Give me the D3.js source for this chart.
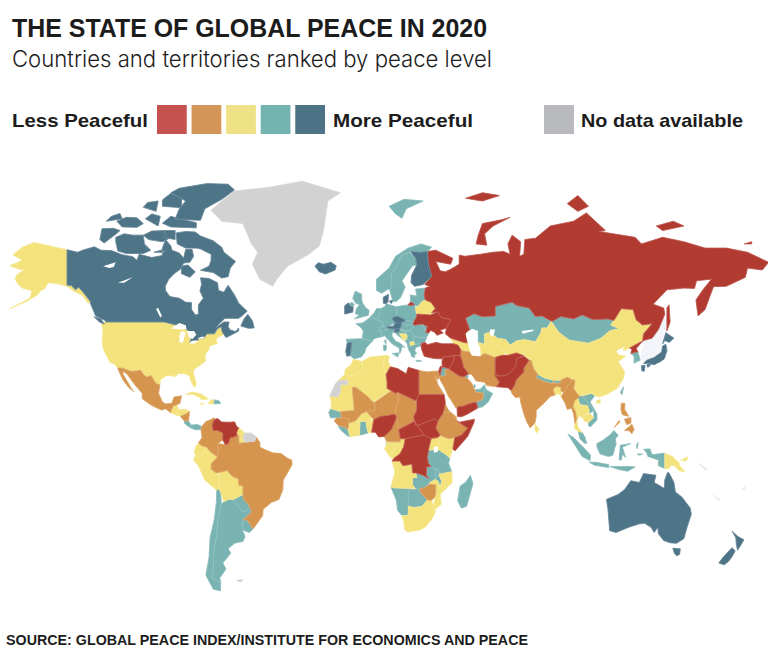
<!DOCTYPE html>
<html>
<head>
<meta charset="utf-8">
<script src="https://cdn.jsdelivr.net/npm/d3@7"></script>
<style>
  html, body { margin: 0; background: #fff; }
  svg { display: block; }
  text { font-family: "Liberation Sans", sans-serif; fill: #1c1c1c; }
</style>
</head>
<body>
<svg id="viz" width="768" height="656"></svg>
<script>
// rings are [lon, lat]. every entry is [name, ring, ring...]
const darkBlue = [
  ["Canada", [[-141,69.6],[-136,69],[-133,69.6],[-128,70.3],[-125,69.5],[-120,69.4],[-115,68.4],[-110,67.9],[-108,67],[-107,68.5],[-101,67.7],[-98,68],[-96,68.2],[-96,70],[-94.5,72],[-92,70.5],[-91.5,69.5],[-88,68.8],[-86,67.5],[-85,69.7],[-82,69.7],[-81.3,68],[-83,66.5],[-86,66.3],[-87.5,64.7],[-90.5,63.5],[-93,62],[-94.7,60],[-94.5,58.8],[-92.5,57],[-88,56.5],[-85,55.3],[-82.3,55.2],[-82.2,53],[-80.5,51.3],[-79,51.5],[-79,54.5],[-76.7,56.5],[-78.3,58.7],[-77.5,60.5],[-78,62.4],[-74,62.2],[-70,61],[-69.5,58.8],[-67,58.3],[-65,60.3],[-62,57.5],[-60,55],[-56,52.5],[-58.5,51],[-60,50.2],[-66.5,50.2],[-69,48.5],[-71,46.9],[-67,49],[-64.5,49],[-65,47.5],[-64,46.3],[-61.5,45.8],[-60,47],[-60,46],[-63.5,44.6],[-66,43.7],[-67,44.8],[-67.8,45.7],[-68.3,47.4],[-70,46.7],[-71.5,45],[-75,45],[-76.5,43.5],[-79,43.3],[-79,42.8],[-83.1,42],[-82.5,43],[-82.5,45.3],[-84.5,46.5],[-89.6,48],[-95.2,49],[-123,49],[-122.5,49.3],[-127.5,51],[-130,55],[-130,55.5],[-133,58],[-135.5,59.7],[-137,59],[-139,60.2],[-141,60.3]],
    [[-61.5,66.7],[-64,65],[-65,62.7],[-68,62.3],[-72,63.8],[-78,64.4],[-74,65.5],[-73,67],[-73,68.5],[-78,69.8],[-80,70],[-85,70],[-89,71],[-89.5,73.5],[-85,73.8],[-80.5,73.7],[-78,72.8],[-72,71.7],[-68,70.2],[-67,69]],
    [[-118,71.5],[-117,69.3],[-113,68.7],[-105,68.7],[-101.5,69.5],[-104.5,71],[-105,73],[-110,73],[-114,73.3],[-118,72.5]],
    [[-125.5,72],[-123.5,71.2],[-118,73.2],[-116,74],[-119,74.5],[-124.5,74.4]],
    [[-117.5,76],[-115,74.8],[-108,74.7],[-105,75.5],[-108,76.7],[-113,76.8]],
    [[-102.5,72],[-96,71.5],[-93,72.2],[-95,74],[-101,73.9],[-105,73]],
    [[-95.5,72.5],[-90,72],[-90,74],[-95,74]],
    [[-96,75.6],[-92,74.8],[-80,74.6],[-80,75.7],[-88,76.5],[-92,77]],
    [[-90,76.4],[-85,76.3],[-78,76.2],[-76,78.5],[-68,80.3],[-62,82],[-65,83],[-75,83.1],[-88,82.3],[-92,81.5],[-85,80],[-88,78.5]],
    [[-96,79],[-87,78.7],[-87,80.5],[-92,81.4],[-96,80.2]],
    [[-59,47.7],[-55.5,46.9],[-52.7,47],[-53.5,49.3],[-55.7,51.5],[-57.5,50]],
    [[-128.3,50.7],[-125,50],[-123.4,48.3],[-125.5,48.9]],
    [[-87,65.5],[-84,65.8],[-80.5,64],[-83,62.5],[-87,63.5]],
    [[-104,76.5],[-98,75],[-97,77],[-101,77.5]],
    [[-122.5,76],[-115,76.5],[-116,77.6],[-120,77]],
    [[-105,78.8],[-99,78],[-98,80],[-103,79.7]],
    [[-100,69],[-95,69],[-96,69.6]]],
  ["Iceland", [[-24,65.5],[-22,64],[-19,63.4],[-14.5,64.5],[-14,65.6],[-16.5,66.5],[-20,66],[-22.5,66.4]]],
  ["Finland", [[24,65.8],[21.5,63],[21.3,61],[23,60],[27,60.5],[31,62.8],[29.5,66],[29,69.2],[25.5,69],[21,69.2],[23.5,67.5]]],
  ["Denmark", [[8.2,55],[8.2,56.8],[10.6,57.7],[10.5,55.5],[9.5,54.8]], [[11,55.5],[12.5,56],[12.2,54.9]]],
  ["Ireland", [[-10,51.6],[-6.2,52.2],[-6,53.8],[-7.5,54.2],[-8.2,55.1],[-10,54.2]]],
  ["Portugal", [[-8.8,41.9],[-6.5,42],[-7,39.6],[-7.4,37.2],[-9,37],[-9.5,38.8]]],
  ["Austria", [[9.6,47.5],[12.9,47.6],[13.8,48.7],[17,48.7],[16.3,46.9],[13.5,46.6],[10.4,46.8]]],
  ["Czechia", [[12.2,50.3],[14.8,51],[18.8,49.6],[17,48.7],[13.8,48.7]]],
  ["Slovenia", [[13.5,46.6],[16.3,46.9],[15.5,45.6],[13.6,45.5]]],
  ["Japan", [[131,34.2],[132.5,35.5],[136,36.5],[139.5,38.5],[140,40.7],[141.5,41.3],[142,39],[140.8,36],[139,35],[136,33.8],[133,34.3]],
    [[140,41.5],[141.5,45.4],[145.3,43.5],[143,42],[141,42.7]],
    [[130,33.5],[131.7,33.5],[131.3,31.3],[130.2,31.4]],
    [[132.5,33.8],[134.5,34.2],[134,33.4],[133,32.8]]],
  ["Australia", [[113.5,-22],[114.2,-26],[115,-34.3],[118,-35],[124,-33],[129,-31.7],[131.5,-31.5],[134.5,-33],[136,-35],[137.7,-33],[138,-35.5],[140.5,-38],[143.5,-38.8],[146.5,-39],[150,-37.3],[151.5,-33],[153.5,-28],[153,-25.5],[149,-21],[146,-19],[145.3,-15],[143,-11],[142.3,-10.8],[141,-14],[140.8,-17.5],[136,-15],[136.8,-12],[131,-11.3],[129,-15],[125,-14.3],[122,-18],[119,-20],[114,-21.8]],
    [[144.8,-40.8],[148.3,-41],[148,-43],[146.5,-43.5],[145.5,-42.5]]],
  ["New Zealand", [[172.8,-34.5],[175.5,-36.5],[178.3,-37.7],[177,-39.5],[175.3,-41.5],[174.8,-39.5],[174.5,-37]],
    [[172.7,-40.6],[174.2,-41.7],[172.8,-43.7],[171,-45.5],[169,-46.6],[166.5,-46],[168.5,-44]]]
];

const teal = [
  ["Costa Rica", [[-85.7,11.1],[-83.7,11],[-82.6,9.6],[-83,8.3],[-85.5,10]]],
  ["Panama", [[-83,8.3],[-82.6,9.3],[-79.5,9.6],[-77.4,8.7],[-77.8,7.5],[-80,7.3],[-81.5,7.7]]],
  ["Dominican Rep", [[-71.7,19.8],[-72,18.2],[-68.5,18.4],[-69.5,19.6]]],
  ["Chile", [[-70.4,-18.3],[-69.5,-17.5],[-68.5,-19],[-68.2,-24],[-70,-30],[-70.3,-36],[-71.8,-42],[-72,-48],[-72.5,-51],[-68.5,-52.3],[-68.6,-55],[-72,-54.5],[-75.5,-50],[-74,-44],[-73.5,-37],[-71.5,-30],[-70.5,-23]]],
  ["Argentina", [[-68.2,-24],[-67,-23],[-65,-22],[-62.6,-22],[-58,-27.2],[-54.5,-25.7],[-53.8,-27],[-58,-30.2],[-58.3,-34],[-57,-36.5],[-58,-38.3],[-62,-39],[-65,-41],[-63.7,-42.5],[-67.5,-46],[-66,-48],[-69,-51],[-68.5,-52.3],[-72.5,-51],[-72,-48],[-71.8,-42],[-70.3,-36],[-70,-30]]],
  ["Uruguay", [[-58,-30.2],[-56,-30.2],[-53.3,-33.7],[-55,-35],[-58.3,-34]]],
  ["Paraguay", [[-62.6,-22],[-58,-20],[-57.8,-22],[-55.5,-24],[-54.5,-25.7],[-58,-27.2]]],
  ["Norway", [[5,58.8],[7.5,58],[10.5,59.2],[11.5,59],[12.3,61],[12,63.5],[14,65],[15,66.3],[16.5,68],[20,69],[21,69.2],[25.5,69],[29,69.2],[31,70.2],[26,71],[20,70],[14,68],[11,65],[5,62]]],
  ["Sweden", [[11.2,59],[12.8,55.5],[14.3,55.5],[16.4,56.7],[18.5,59.8],[17,61.5],[19,63.2],[22,65.6],[24,65.8],[23.5,67.5],[20.5,69],[16.5,68],[15,66.3],[14,65],[12,63.5],[12.3,61]]],
  ["United Kingdom", [[-5.5,50],[1.2,51.2],[1.5,52.8],[0,53.5],[-1.5,55],[-2,56],[-2,57.7],[-5,58.6],[-6.2,56.5],[-4.8,55],[-3,54.5],[-4.5,53.2],[-5,51.7],[-3,51.3]], [[-7.5,54.2],[-6,54],[-5.5,54.7],[-6.5,55.2],[-7.5,55]]],
  ["France", [[-4.7,48.4],[-1.5,48.7],[1.5,50.2],[2.5,51],[4.2,50],[8.2,49],[7.6,47.5],[6,46.2],[7,45.8],[7.5,44],[4,43.4],[3,42.4],[-1.7,43.3],[-1.2,46],[-2.5,47.3]], [[8.6,42.4],[9.4,43],[9.5,41.5]]],
  ["Spain", [[-9.3,43.1],[-1.7,43.3],[3,42.4],[0,40],[-0.5,38.5],[-2,36.8],[-5.5,36],[-7.4,37.2],[-7,39.6],[-6.5,42],[-8.8,41.9]]],
  ["Benelux", [[2.5,51],[4,52],[5,53.3],[7,53.3],[6,51],[6,49.5],[4.2,50]]],
  ["Germany", [[6,51],[7,53.3],[9,54],[9.5,54.8],[14.2,53.9],[14.8,51],[12.2,50.3],[13.8,48.7],[10,47.4],[7.6,47.5],[8.2,49],[6,49.5]]],
  ["Switzerland", [[6,46.2],[7.6,47.5],[9.6,47.5],[10.4,46.6],[8.5,46],[7,45.8]]],
  ["Italy", [[7.5,44],[7,45.8],[8.5,46],[10.4,46.6],[12.9,47],[13.6,45.6],[12.4,45.4],[12.3,44.2],[14,42.4],[16,41.8],[18.4,40.2],[17,40.5],[16.6,39],[16,38],[15.7,40],[12.5,41.4],[10.5,43],[8.8,44.4]], [[12.5,38],[15.6,38.2],[15,36.7]], [[8.2,41],[9.7,41],[9.5,39.2],[8.5,39]]],
  ["Poland", [[14.2,53.9],[19,54.4],[23,54.3],[24,50.8],[22.6,49.1],[18.8,49.6],[14.8,51]]],
  ["Baltics", [[21,55.2],[21,57.5],[24,57.2],[23.5,59.2],[28,59.5],[27.5,57.5],[28,56],[26.5,55.5],[24.5,54],[22.8,54.4],[22,55.2]]],
  ["Moldova", [[26.6,48.3],[29,47.5],[28.2,45.5]]],
  ["Romania", [[22.8,47.9],[26.6,48.3],[28.2,45.5],[29.7,45.3],[28.6,43.8],[25,43.7],[22.7,44.3],[21,46.2]]],
  ["Slovakia", [[17,48.7],[18.8,49.6],[22.6,49.1],[22.2,48.4],[18.8,47.8]]],
  ["Hungary", [[16.3,46.9],[17,48.7],[18.8,47.8],[22.2,48.4],[22.8,47.9],[21,46.2],[18.8,45.9]]],
  ["Croatia", [[13.6,45.5],[15.5,45.6],[16.5,46.5],[19,45.5],[19,44.9],[15.8,45],[17.5,43],[18.5,42.5],[15,44.5]]],
  ["Serbia", [[19,45.9],[21,46.2],[22.7,44.3],[22.5,42.5],[20.5,42.2],[19.3,43.3],[19.5,44]]],
  ["Albania", [[18.5,42.5],[19.3,43.3],[20.5,42.6],[21,40.6],[20,39.7],[19.5,41.5]]],
  ["Bulgaria", [[22.5,42.5],[22.7,44.3],[25,43.7],[28.6,43.7],[27.8,42],[26.3,41.7],[23,41.3]]],
  ["Greece", [[20,39.7],[21,40.7],[23,41.3],[26.3,41.7],[26,40.8],[23.5,40.2],[23,39],[24,38],[23,37.5],[23,36.5],[21.7,36.8],[21,38.3]], [[23.6,35.5],[26.3,35.2],[24,35]]],
  ["Svalbard", [[11,79],[14,77.5],[17,76.6],[19,78.5],[27,80],[18,80.3]]],
  ["Kazakhstan", [[47,50.2],[51,51.7],[55,50.7],[61,51],[61,54],[69,55.3],[71,54.3],[77,53.5],[80,50.8],[83,51],[87.3,49.1],[85.5,47],[83,47],[82.5,45.3],[80,42.2],[74.5,43],[71,42.5],[68,41],[66,43],[62,43.5],[58.5,45.5],[56,45],[56,41.3],[53,42],[53,45],[51,44.5],[49,46.4]]],
  ["Mongolia", [[87.8,49.2],[92,50.8],[98,50],[102,51.3],[107,49.8],[114,50],[117,49.5],[115.5,48],[119.5,46.8],[115,46],[111,43.5],[105,41.7],[96,42.8],[91,45.5]]],
  ["Jordan", [[36,33],[39,32.2],[37,31.5],[38,30],[37,29.5],[35,29.4],[35.5,31.5]]],
  ["Kuwait", [[46.5,29.1],[47.7,30],[48.2,29.5],[48,28.4]]],
  ["UAE", [[51.6,24],[54,24.2],[56,26],[56.4,24.7],[55.5,22],[55,22.7],[52,23]]],
  ["Qatar", [[50.8,24.7],[51.6,25],[51.3,26.1],[50.8,25.8]]],
  ["Oman", [[56.3,24.7],[57,23.8],[59.8,22.5],[57.7,19],[55,17],[52.8,16.5],[52,19],[55,20],[55.5,22]]],
  ["Senegal", [[-17.5,14.7],[-16.5,16.2],[-12,15],[-11.4,12.4],[-16.7,12.4]]],
  ["Sierra Leone, Liberia", [[-13.2,9],[-10.3,8.5],[-8.5,7.6],[-7.5,4.4],[-9,5],[-11.5,6.9]]],
  ["Ghana", [[-3,5],[-2.8,10.8],[0,11],[0.5,8],[1.1,6]]],
  ["Equatorial Guinea", [[9.5,1],[11.3,1],[11.3,2.2],[9.8,2.2]]],
  ["Tanzania", [[29.7,-1.3],[34,-1],[37.7,-3.2],[39.5,-4.8],[39,-7],[40.5,-10.5],[35,-11.5],[34.5,-9.7],[32.7,-9.2],[30.8,-8.3],[29.5,-7],[29,-4.5]]],
  ["Zambia", [[22,-13],[24,-13],[23.5,-11],[27,-12],[29.8,-13.4],[28.5,-12],[28.7,-8.5],[30.8,-8.3],[32.7,-9.2],[33.3,-11],[32.8,-13.5],[30.2,-15],[28,-17],[25.2,-17.8],[23.4,-17.6],[22,-16]]],
  ["Malawi", [[33,-9.5],[34.5,-9.7],[34.5,-12],[35.8,-14.5],[35,-17],[34,-14.5],[32.8,-13.8]]],
  ["Botswana", [[20,-18.3],[23.4,-17.6],[25.2,-17.8],[26,-19.5],[29,-22.2],[26.5,-24.8],[23,-25.3],[20,-24.8],[20,-22]]],
  ["Namibia", [[11.8,-16.9],[13.5,-17.3],[18.5,-17.4],[23.4,-17.6],[20,-18.3],[20,-22],[20,-28.4],[17,-28.5],[15,-26.5],[14.4,-22.5]]],
  ["Madagascar", [[49.3,-12],[50.5,-15.5],[47.5,-24.8],[45,-25.5],[43.3,-22.5],[44.5,-16.5],[47,-15]]],
  ["Nepal", [[80.2,28.7],[81,30.2],[84,28.7],[88.2,27.8],[88,26.4],[84,27.3]]],
  ["Bhutan", [[88.8,27.8],[92,27.8],[92,26.8],[89,26.6]]],
  ["Taiwan", [[120,23],[121.6,25.2],[120.8,22]]],
  ["South Korea", [[125,38],[128.3,38.6],[129.4,35.5],[126.5,34.4],[126.5,37]]],
  ["Laos", [[100,20.4],[101,21.3],[102,22.4],[103,20.5],[104.7,18.8],[107.5,15.5],[105.5,14.2],[105.5,15],[104.5,17.5],[101,17.8]]],
  ["Vietnam", [[102,21.5],[106.5,22.8],[108,21.6],[105.7,19],[109,14],[109,11.5],[106,8.6],[105,9],[105,10.5],[107.5,12.5],[107.5,15.5],[104.7,18.8],[103,20.5]]],
  ["Malaysia", [[100.2,6.7],[102,6.2],[103.4,4],[104.2,1.4],[103,1.7],[101,3.5]]],
  ["Indonesia", [[109,1.5],[111.5,2.7],[115,5],[117,7],[119,5],[117.7,3.5],[118,1],[117.5,0],[116.5,-3.5],[114.5,-4],[110.5,-3],[109,0]],
    [[95.3,5.5],[98,4],[104,-1.5],[106,-3.5],[105.7,-5.8],[102,-4],[98.5,1]],
    [[105.3,-6.5],[108.5,-6.5],[114.5,-7.5],[114.5,-8.7],[108,-7.8]],
    [[119.5,-5.5],[120,0.7],[125,1.5],[121,0],[122.5,-4.5],[121,-3],[120.5,-5.5]],
    [[115,-8.3],[119,-8.3],[125,-8.3],[127,-8.5],[123.5,-10.3],[119,-9.5]],
    [[127.5,0.5],[128.5,2],[128,-0.7]],
    [[128,-3],[130.5,-3],[129,-3.5]],
    [[131,-1],[134,-0.8],[135,-3.3],[141,-2.6],[141,-9.1],[138,-8],[138,-5.5],[133,-4],[132.5,-2.5]]],
  ["Eswatini", [[30.8,-26],[32,-26],[32,-27.2],[31,-27.2]]]
];

const yellow = [
  ["United States", [[-123,49],[-95.2,49],[-89.6,48],[-84.5,46.5],[-82.5,45.3],[-82.5,43],[-83.1,42],[-79,42.8],[-79,43.3],[-76.5,43.5],[-75,45],[-71.5,45],[-70,46.7],[-68.3,47.4],[-67.8,45.7],[-67,44.8],[-70,43.7],[-70.7,42.7],[-70,41.7],[-74,40.6],[-74,39.5],[-75.5,38],[-76,36.9],[-75.6,35.2],[-77.5,34],[-79,33.2],[-81,32],[-81.4,30.5],[-80.2,27],[-80.3,25.3],[-81.2,25.2],[-82.7,27.8],[-83,29.2],[-84.3,30],[-86,30.4],[-89,30.3],[-89.5,29.2],[-91.5,29.5],[-94,29.6],[-97,28],[-97.2,26],[-99,26.4],[-101.4,29.7],[-103,29],[-104.5,29.6],[-106.5,31.8],[-108.2,31.4],[-111,31.3],[-114.8,32.5],[-117.1,32.5],[-118.5,34],[-120.6,34.6],[-122.4,37.2],[-124,40],[-124.4,43],[-124,46.3],[-124.7,48.4]],
    [[-141,69.6],[-148,70.4],[-156.5,71.3],[-162,70.2],[-166.5,68.4],[-162,67],[-164,66.5],[-168,65.6],[-163,64.6],[-161,64.6],[-164.5,63.3],[-165.5,62],[-164,60.5],[-162,59.5],[-157.5,58.7],[-158.5,56.5],[-163,55],[-168,53.3],[-160,55.6],[-155,57.5],[-153,59],[-151.5,59.3],[-150,61],[-146,60.8],[-141,60],[-137.5,58.5],[-134,57.5],[-131,55],[-130,55.5],[-133,58],[-135.5,59.7],[-137,59],[-139,60.2],[-141,60.3]]],
  ["Guatemala", [[-92.2,14.6],[-91,17.2],[-89.2,17.8],[-88.3,15.7],[-89.3,14.4],[-90.5,13.8]]],
  ["Honduras", [[-89.3,14.4],[-88.3,15.7],[-85,16],[-83.2,15],[-85,14],[-87.5,13.2]]],
  ["El Salvador", [[-90,13.7],[-89.3,14.4],[-87.8,13.4],[-88,13.2]]],
  ["Cuba", [[-85,21.9],[-82.5,23.1],[-78,22.4],[-74.2,20.2],[-77.5,19.9],[-78,20.7],[-82,22.3]]],
  ["Haiti", [[-74.4,18.4],[-72,18.2],[-71.7,19.8],[-73,19.9]]],
  ["Jamaica", [[-78.3,18.3],[-76.3,18],[-76.5,18.3],[-77.5,18.5]]],
  ["Guyana", [[-60,8.3],[-57.2,6],[-58,4],[-57,2],[-59.8,1.5],[-60,5],[-61,6]]],
  ["Ecuador", [[-80,0.8],[-78.8,1.4],[-75.3,0],[-75.5,-1.5],[-78.3,-4.5],[-80.3,-3.4],[-81,-2]]],
  ["Peru", [[-80.3,-3.4],[-78.3,-4.5],[-75.5,-1.5],[-75.3,0],[-73,-2.3],[-70,-4.2],[-73,-7.2],[-73,-9.5],[-70.6,-11],[-69,-12.5],[-69.5,-17.5],[-70.4,-18.3],[-76,-14],[-79,-8],[-81.3,-5.5]]],
  ["Bolivia", [[-69.5,-10.9],[-65.5,-10],[-63,-12.5],[-60.2,-13.5],[-60,-16.2],[-58,-16.5],[-58,-20],[-62.6,-22],[-65,-22],[-67,-23],[-68.5,-19],[-69.5,-17.5],[-69,-12.5]]],
  ["Belarus", [[23.5,53.9],[24.5,54],[26.5,55.5],[28,56],[30.8,55.2],[32.7,53.4],[31,52],[30.5,51.3],[24,51.6],[23.6,52.6]]],
  ["Bosnia", [[15.8,45],[19,44.9],[19.5,44],[18.5,42.6],[17.5,43]]],
  ["North Macedonia", [[20.7,41.8],[22.5,42.3],[23,41.3],[21,40.9]]],
  ["Caucasus", [[40,43.5],[46.5,41.9],[48.5,41.9],[50,40.4],[49,38.5],[46,38.9],[43.5,41],[41.5,41.5]]],
  ["Tunisia", [[8.2,33],[9.5,30],[11.5,33],[10.5,35],[11,37],[9,37.3],[8.5,36]]],
  ["Algeria", [[-1.9,35],[2,36.7],[9,37.2],[8.5,36],[8.2,33],[9.5,30],[10,27],[10,24.5],[12,23.5],[3.2,19],[1,21.1],[-4.8,25],[-8.7,27.3],[-8.7,29],[-5,30],[-1.5,32.3]]],
  ["Morocco", [[-5.9,35.8],[-2.2,35.1],[-1.5,32.3],[-5,30],[-8.7,29],[-8.7,27.7],[-13,27.7],[-10,30],[-9.8,32],[-7,33.8]]],
  ["Mauritania", [[-17,21.3],[-13,21.3],[-12,23.4],[-12,26],[-8.7,26],[-8.7,27.3],[-4.8,25],[-6.5,25],[-5.5,15.5],[-12,15],[-16.5,16.2],[-16.2,19]]],
  ["Ivory Coast", [[-8.5,7.6],[-8,10.3],[-5,11],[-2.8,10.8],[-3,5],[-7.5,4.4]]],
  ["Burkina Faso", [[-5,11],[-2,14.2],[0.3,15],[2.8,12.5],[2,11],[-2.8,10.8]]],
  ["Togo, Benin", [[0,11],[2,11],[3.7,11.7],[2.7,6.3],[1.1,6],[0.5,8]]],
  ["Congo", [[11.2,-3.9],[13,-2.5],[14,1],[13,2.2],[16.2,2.2],[16.2,3.5],[18.5,3.5],[17.8,0],[16,-3],[13.5,-4.6],[12.3,-5]]],
  ["Gabon", [[9.8,1],[9.8,2.3],[13,2.2],[14,1],[13,-2.5],[11.2,-3.9],[8.8,-0.8]]],
  ["Kenya", [[34,4],[35,5],[39,3.5],[41.9,4],[41,-0.8],[39.5,-4.5],[37.7,-3.2],[34,-1]]],
  ["Uganda", [[31,3.7],[35,4.5],[34,-1],[29.7,-1.3],[29.7,-0.5],[30.8,3.5]]],
  ["Angola", [[11.8,-16.9],[13.5,-17.3],[18.5,-17.4],[23.4,-17.6],[22,-16],[22,-13],[24,-13],[23.5,-11],[22,-11],[21.7,-7.3],[17.5,-8],[16,-6],[12.3,-6],[13.7,-10.5],[13,-13]]],
  ["Mozambique", [[40.5,-10.5],[40.7,-15],[35,-20],[35.5,-24],[32.8,-26],[32,-25],[32.5,-21],[33,-19],[33,-16],[30.2,-15.7],[30.2,-15],[32.8,-13.8],[34,-14.5],[35,-17],[35.8,-14.5],[34.5,-12],[35,-11.5]]],
  ["South Africa", [[17,-28.5],[20,-28.4],[20,-24.8],[23,-25.3],[26.5,-24.8],[29,-22.2],[31,-22.4],[32,-25],[32.8,-27],[31,-30],[28,-33],[25.6,-34],[20,-34.8],[18.3,-34],[18,-31.5]]],
  ["Turkmenistan", [[53,42],[56,41.3],[58.5,42.5],[60,42],[66,38],[64,37.3],[61,36.5],[56,38],[54,37],[54,40]]],
  ["Uzbekistan", [[56,45],[58.5,45.5],[62,43.5],[66,43],[68,41],[71,41],[67,39],[66,38],[60,42],[58.5,42.5],[56,41.3]]],
  ["Kyrgyzstan, Tajikistan", [[68,41],[71,42.5],[74.5,43],[80,42.2],[74,39.5],[74.5,37.2],[71,38.2],[67,37.3],[66,38],[67,39]]],
  ["China", [[74,39.5],[80,42.2],[82.5,45.3],[83,47],[85.5,47],[87.3,49.1],[91,45.5],[96,42.8],[105,41.7],[111,43.5],[115,46],[119.5,46.8],[115.5,48],[117,49.5],[120.5,53.3],[126,53],[127.5,49.7],[130.5,48],[135,48.4],[131,45],[130.6,43],[128,41.5],[124.4,40],[121.5,39],[122,40.6],[118,39],[119,37.5],[122.5,37],[119,35],[122,31],[121.5,28.5],[118.5,24.5],[114,22.3],[110,21],[108,21.6],[106.5,22.5],[102,21.5],[100,22],[98,24.5],[98.7,27.7],[95,29],[92,27.8],[88.8,27.8],[84,28.7],[81,30.2],[79,32.5],[78,35.5],[75,37]],
    [[108.7,19.4],[110.5,20],[110.5,18.7],[109,18.3]]],
  ["Bangladesh", [[88.3,24.3],[89.8,25.3],[92,25],[92,23.5],[92.3,21],[91,22.5],[89,21.7]]],
  ["Thailand", [[98.5,19.5],[100,20.4],[101,17.8],[104.5,17.5],[105.5,15],[102.5,13],[102.5,12],[100.7,13.4],[99.5,11],[100,8.5],[102,6.2],[100.2,6.7],[98.3,8],[98.6,10],[99.5,12],[98.9,15],[97.7,17]]],
  ["Cambodia", [[102.5,13],[105.5,14.2],[107.5,12.5],[105,10.5],[103,11]]],
  ["Sri Lanka", [[79.8,9.7],[81.8,7.5],[80.5,6],[79.8,7.5]]],
  ["Papua New Guinea", [[141,-2.6],[145,-4.3],[146,-5.5],[147.5,-6.3],[148,-8],[150.5,-10.5],[147.5,-10],[146,-8.2],[144,-7.7],[143,-9.2],[141,-9.1]], [[148.5,-5.7],[152,-4.2],[151,-6]]]
];

const orange = [
  ["Mexico", [[-117.1,32.5],[-114.8,32.5],[-111,31.3],[-108.2,31.4],[-106.5,31.8],[-104.5,29.6],[-103,29],[-101.4,29.7],[-99,26.4],[-97.2,26],[-97.8,22.5],[-96,19],[-94.5,18.2],[-91.5,18.5],[-90.5,21],[-87,21.5],[-87.7,18.5],[-89,17.9],[-91,17.2],[-92.2,14.6],[-94.5,16.2],[-96.5,15.7],[-101,17.5],[-105.5,20.3],[-105.5,22.5],[-109,26],[-112.5,30],[-114.7,31.5],[-114.5,30],[-111,25],[-109.5,23.2],[-112,25],[-114.5,27.8],[-115.8,30]]],
  ["Nicaragua", [[-87.5,13],[-85,14],[-83.2,15],[-83.7,11],[-85.7,11.1]]],
  ["Colombia", [[-77.4,8.7],[-75.5,10.8],[-74,11.3],[-71.5,12.4],[-71.3,11.5],[-72.5,9],[-72,7],[-70,7],[-67.5,6],[-67.5,3],[-70,1.5],[-69.5,-0.5],[-70,-4.2],[-73,-2.3],[-75.3,0],[-77.5,0.5],[-79,1.7],[-77.3,4],[-77.8,7.5]]],
  ["Brazil", [[-51.7,4.3],[-50,1.8],[-50,0],[-48,-1],[-44,-2.5],[-40,-2.8],[-37,-4.8],[-35,-5.5],[-34.8,-7.5],[-37,-11],[-39,-14],[-39.2,-18],[-41,-22],[-44.5,-23.2],[-48.5,-26],[-48.7,-28.5],[-52,-32.3],[-53.3,-33.7],[-56,-30.2],[-58,-30.2],[-53.8,-27],[-54.5,-25.7],[-55.5,-24],[-57.8,-22],[-58,-20],[-58,-16.5],[-60,-16.2],[-60.2,-13.5],[-63,-12.5],[-65.5,-10],[-69.5,-10.9],[-70.6,-11],[-73,-9.5],[-73,-7.2],[-70,-4.2],[-69.5,-0.5],[-70,1.5],[-66.3,1],[-64.8,1.5],[-64,4],[-63,4],[-60.7,5],[-60,5],[-59.8,1.5],[-57,2],[-55,2.3],[-52.5,2.3]]],
  ["Iran", [[44.7,39.5],[46,38.9],[49,38.5],[50,37.2],[54,37],[56,38],[61,36.5],[61,31.4],[63,27],[61.6,25.2],[57,25.7],[56,27],[52,27.5],[50,30],[48.5,30.2],[46,33],[45.5,35],[44.5,37.3]]],
  ["Saudi Arabia", [[34.7,29.3],[37,29.5],[38,30],[37,31.5],[39,32.2],[44.5,29.2],[46.5,29.1],[48,28.4],[50,26.5],[50.8,24.7],[52,23],[55,22.7],[55.5,22],[55,20],[52,19],[48.8,18.3],[46,17.3],[43.2,17],[42.5,16.5],[40,20],[38.8,21.5],[37,25],[35,28]]],
  ["Egypt", [[25,31.6],[29,31],[32.3,31.3],[34.3,31.3],[34.9,29.5],[34,28],[33,29],[32.5,30],[34,26],[36.9,22],[31.3,22],[25,22]]],
  ["Mali", [[-4.8,25],[1,21.1],[3.2,19],[4.2,18.9],[4.2,15.4],[0.3,15],[-2,14.2],[-5,11],[-8,10.3],[-8.3,12.2],[-11.4,12.3],[-12,15],[-5.5,15.5],[-6.5,25]]],
  ["Guinea", [[-15,11],[-13.7,12.4],[-11.4,12.3],[-8.3,12.2],[-8,10.3],[-8.5,7.6],[-10.3,8.5],[-13,9.2]]],
  ["Niger", [[4.2,18.9],[12,23.5],[14,22.6],[15,23],[15.5,20.5],[13.5,14],[10,13.3],[7,13],[3.7,11.7],[2.8,12.5],[0.3,15],[4.2,15.4]]],
  ["Chad", [[15,23],[23.5,19.5],[24,15.7],[22.5,12.8],[23,11],[19,9],[15.5,7.5],[14.5,12.5],[13.5,14],[15.5,20.5]]],
  ["Cameroon", [[8.7,4.5],[12,7.5],[14.5,12.5],[15.5,7.5],[16.2,3.5],[16.2,2.2],[13,2.2],[9.8,2.3]]],
  ["Ethiopia", [[36.5,14.5],[38,14.5],[40,14.5],[42.5,12.5],[43,11],[48,8],[45,5],[41.9,4],[39,3.5],[35,5],[33,8],[34,11]]],
  ["Eritrea", [[36.5,14.5],[37.5,18],[39,15.5],[43,12.5],[42.5,12.5],[40,14.5],[38,14.5]]],
  ["Zimbabwe", [[25.2,-17.8],[28,-17],[30.2,-15.7],[33,-16],[33,-19],[32.5,-21],[31,-22.4],[29,-22.2],[26,-19.5]]],
  ["India", [[68.5,23.7],[70,25.5],[71,28],[74.5,31],[74.5,32.5],[77,35.5],[78,35.5],[79,32.5],[81,30.2],[80.2,28.7],[84,27.3],[88,26.4],[88.8,27.8],[89,26.4],[92,26.8],[92,27.8],[95,29],[97.3,28],[94.5,24.5],[93.3,23],[92,23.5],[92,25],[89.8,25.3],[88.3,24.3],[89,21.7],[87,21.3],[84,18.5],[80.3,15.5],[80.3,13],[79.8,10.3],[77.5,8.1],[76,10.5],[74.5,14],[73,19],[72.7,21],[70.5,20.8],[69,22.3]]],
  ["Myanmar", [[92.3,21],[93.3,23],[94.5,24.5],[97.3,28],[98.7,27.7],[98,24.5],[100,22],[101,21.3],[98.5,19.5],[97.7,17],[98.9,15],[99.5,12],[98.6,10],[98,14],[97,16.5],[95,15.9],[94,18.5]]],
  ["Philippines", [[120.3,16],[120.5,18.5],[122.2,18.4],[122,16],[124,13],[121,13.7]], [[122,7],[125.5,9.7],[126.5,7.5],[125.5,5.7],[124,7]], [[122,11.8],[125,12.5],[125,10.2],[123,9.5]], [[117.2,8.4],[119.5,11.3],[119.7,10.5]]]
];

const red = [
  ["Russia", [[28,56],[27.5,57.5],[28,59.5],[30.2,60],[27.8,60.5],[31,62.8],[29.5,66],[29,69.2],[33,69.5],[41,67.5],[40,66],[35,66.5],[33,66.7],[35,64.3],[37.5,64],[40,64.7],[44,66],[44,68.3],[46.5,68],[54,68.5],[60,69],[65,69.2],[68,68.5],[67,71],[69,73],[73,71.5],[72.5,68],[74.5,68.5],[75,72],[80,72.3],[87,75],[98,76],[104,77.7],[113,74],[110,73.8],[127,72.5],[130,71],[140,72.5],[150,71.5],[160,70],[170,70],[180,69],[190,66.5],[187,64.5],[180,65],[179,62.5],[170,60],[164,59.9],[162.5,57.5],[160,53],[156.7,51],[155.7,56],[159,59],[163,62],[156,61.6],[155,59.4],[150,59.5],[142,59],[135.5,54.7],[140.5,53.5],[141,51.5],[138,46.5],[135,43.5],[131,42.7],[130.7,42.3],[130.6,43],[131,45],[135,48.4],[130.5,48],[127.5,49.7],[126,53],[120.5,53.3],[117,49.5],[114,50],[107,49.8],[102,51.3],[98,50],[92,50.8],[87.8,49.2],[83,51],[80,50.8],[77,53.5],[71,54.3],[69,55.3],[61,54],[61,51],[55,50.7],[51,51.7],[47,50.2],[49,46.4],[47.5,45.6],[47.5,43],[48.5,41.9],[46.5,41.9],[40,43.5],[37.5,45],[38,47],[40,49.8],[35.5,50.5],[34,52.3],[31,52],[32.7,53.4],[30.8,55.2]],
    [[52,71],[57,70.7],[56,73.3],[60,75],[68,76.8],[64,76.3],[55,75.5],[53,73]],
    [[47,80.5],[55,80],[63,81],[55,81.5]],
    [[95,79.5],[100,78],[105,79],[100,81]],
    [[137,75],[140,74],[150,75],[145,76]],
    [[178.5,71],[182,71],[182,71.5]],
    [[142,46],[143.5,49],[143,54.5],[142,53.5],[142,50]],
    [[19.8,54.4],[22.8,54.4],[22,55.2],[20.8,55.2]]],
  ["Ukraine", [[22.2,48.5],[24,50.8],[24,51.6],[30.5,51.3],[34,52.3],[35.5,50.5],[40,49.8],[38,47],[35,46.2],[36.5,45.3],[33.5,44.5],[32.5,45.5],[30.5,46.2],[29.7,45.3],[28.2,45.5],[29,47.5],[26.6,48.3],[22.8,47.9]]],
  ["Turkey", [[26.2,41.7],[28,42],[29,41.2],[33,42],[36,41.5],[41.5,41.5],[43.5,41],[44.7,39.5],[44.5,37.3],[42,37.2],[36.5,36.7],[36,36],[32.5,36.1],[30.5,36.4],[27.5,37],[26.3,39.5],[26,40.8]]],
  ["Iraq", [[42,37.2],[44.5,37.3],[45.5,35],[46,33],[48.5,30.2],[47.7,30],[46.5,29.1],[44.5,29.2],[39,32.2],[41,34.5]]],
  ["Syria", [[36.5,36.7],[42,37.2],[41,34.5],[39,32.2],[36,33],[35.9,35]]],
  ["Israel", [[35,29.5],[34.3,31.3],[35.1,33.2],[36,33],[35.5,31.5]]],
  ["Yemen", [[43.2,13],[43,16.5],[43.2,17],[46,17.3],[48.8,18.3],[52,19],[52.8,16.5],[48,14],[45,12.8]]],
  ["Libya", [[9.5,30],[11.5,33],[15,32.3],[19,30.3],[20,32.8],[25,31.6],[25,22],[24,20],[23.5,19.5],[15,23],[14,22.6],[10,24.5],[10,27]]],
  ["Nigeria", [[2.7,6.3],[3.7,11.7],[7,13],[10,13.3],[13.5,14],[14.5,12.5],[12,7.5],[8.7,4.5],[6,4.3],[4.5,6.3]]],
  ["CAR", [[15.5,7.5],[19,9],[23,11],[27.4,5.1],[22,4.2],[18.5,3.5],[16.2,3.5]]],
  ["DR Congo", [[12.3,-6],[13.5,-4.6],[16,-3],[17.8,0],[18.5,3.5],[22,4.2],[27.4,5.1],[30.8,3.5],[29.7,-0.5],[29,-4.5],[29.5,-7],[30.8,-8.3],[28.7,-8.5],[28.5,-12],[29.8,-13.4],[27,-12],[23.5,-11],[22,-11],[21.7,-7.3],[17.5,-8],[16,-6]]],
  ["Sudan", [[25,22],[31.3,22],[36.9,22],[37.5,18.7],[36.5,14.5],[34,11],[32.5,12],[27,10],[23.5,9],[23,11],[22.5,12.8],[24,15.7],[24,20]]],
  ["South Sudan", [[23.5,9],[27,10],[32.5,12],[34,11],[33,8],[35,5],[34,4],[31,3.7],[30.8,3.5],[27.4,5.1],[23,11]]],
  ["Somalia", [[43,11],[44,10.5],[51.2,11.8],[51,10.5],[48,4.5],[42,-1.7],[41,-0.8],[41.9,4],[45,5],[48,8]]],
  ["Venezuela", [[-71.3,11.7],[-70,12.1],[-68,10.6],[-64,10.5],[-62,10.7],[-60.8,8.5],[-60,8.3],[-61,6],[-60.7,5],[-63,4],[-64,4],[-64.8,1.5],[-66.3,1],[-67.5,3],[-67.5,6],[-70,7],[-72,7],[-72.5,9],[-72,10.8]]],
  ["Afghanistan", [[61,36.5],[64,37.3],[67,37.3],[71,38.2],[74.5,37.2],[71,36],[71,34],[69.5,31.8],[66.5,30],[66,29.5],[61,29.5],[61,31.4]]],
  ["Pakistan", [[61,29.5],[66,29.5],[66.5,30],[69.5,31.8],[71,34],[71,36],[74.5,37],[77,35.5],[74.5,32.5],[74.5,31],[71,28],[70,25.5],[68.5,23.7],[67,24.8],[61.6,25.2],[63,27]]],
  ["North Korea", [[124.4,40],[128,41.5],[130.6,42.5],[127.5,39.8],[128.3,38.6],[125,38],[125.5,39.5]]]
];

const noData = [
  ["Greenland", [[-73,78.2],[-68,76],[-58,75.5],[-54,71],[-51,69],[-53.5,66],[-50,62],[-44,60],[-42,62],[-37,65.5],[-27,68.5],[-22,70.5],[-20,74],[-19,77],[-18,80],[-12,81.5],[-30,83.5],[-45,82.5],[-62,81.8],[-68,80]]],
  ["Western Sahara", [[-13,27.7],[-8.7,27.7],[-8.7,26],[-12,26],[-12,23.4],[-13,21.3],[-17,21.3],[-16,23.5],[-14.5,26.2]]],
  ["Suriname, Fr Guiana", [[-57.2,6],[-54,5.9],[-51.7,4.3],[-52.5,2.3],[-55,2.3],[-57,2],[-58,4]]],
  ["Falklands", [[-61,-51.7],[-58,-51.5],[-59,-52.3]]]
];

// the faint specks out in the pacific
const faintIslands = [
  ["New Caledonia", [[164,-20],[167,-22.3],[166.5,-22.5]]],
  ["Fiji", [[177.5,-17.5],[179,-17],[178.5,-18.2]]],
  ["Solomon Islands", [[157,-7],[161,-9.5],[160,-9.8]]]
];

// pale patch over the sea of japan
const paleSea = [[[129.5,36.5],[131,42.7],[135,43.5],[138,46.5],[141,51],[141.5,46],[142,43],[140,39],[136,36],[131,34.5]]];

const lakes = [
  [[-124,65.5],[-118,66.5],[-119,65.3],[-121,65]],
  [[-117,61],[-110,62.5],[-112,61.8],[-114,61]],
  [[-99,53.3],[-97,50.5],[-96.2,51],[-98,53.5]],
  [[-92,46.8],[-88,48.7],[-85,47.9],[-84.6,46.6],[-87,46.5]],
  [[-87.9,42],[-86.3,42],[-85,45.5],[-87,46],[-88,44.5]],
  [[-84.5,46],[-81,46],[-80,44.7],[-81.8,43.2],[-83.5,43.7]],
  [[-83.4,41.7],[-81,41.5],[-79,42.7],[-82,42.6]],
  [[-79.7,43.3],[-76.5,43.4],[-76.3,44.1],[-78,43.9]],
  [[47,45],[50,46.7],[53,46],[52,42],[54,40],[54,37],[50,37.2],[49,39],[48,42]],
  [[58.5,46.5],[61,46.5],[60,44],[58.5,44.5]],
  [[73.5,46],[79,46.5],[79,46],[74,45]],
  [[32,-2.5],[34,-2],[34,0.3],[32,0]]
];

// paint order: dark blue sits on top of its teal neighbours
const tiers = [faintIslands, teal, yellow, orange, red, darkBlue, noData];
const mapColors = ["#e6e6e6", "#79b3b2", "#f4e37d", "#d5954e", "#b23b31", "#4e7488", "#d2d2d2"];

const legendLabels = ["Less Peaceful", "More Peaceful", "No data available"];
const legendColors = ["#c5524f", "#d39658", "#efe185", "#74b4b0", "#4c7386"];
const noDataColor = "#b9babe";

const title = "THE STATE OF GLOBAL PEACE IN 2020";
const subtitle = "Countries and territories ranked by peace level";
const source = "SOURCE: GLOBAL PEACE INDEX/INSTITUTE FOR ECONOMICS AND PEACE";

var svg = d3.select("#viz");

// the map is a miller cylinder, stretched a bit vertically
const miller = lat => 1.25 * Math.log(Math.tan(Math.PI / 4 + 0.4 * lat * Math.PI / 180));
const lonScale = d3.scaleLinear().domain([-141, 153.6]).range([67, 691.5]);
const latScale = d3.scaleLinear().domain([0, miller(49)]).range([447, 322]);

const path = d3.geoPath(d3.geoTransform({
  point(lon, lat) { this.stream.point(lonScale(lon), latScale(miller(lat))); }
}));

const closeRing = ring => ring.concat([ring[0]]);
const toFeature = (rings, name) => ({
  type: "Feature",
  properties: { name },
  geometry: { type: "MultiPolygon", coordinates: rings.map(r => [closeRing(r)]) }
});

var countries = [];
tiers.forEach((tier, i) => {
  tier.forEach(([name, ...rings]) => {
    let f = toFeature(rings, name);
    f.properties.color = mapColors[i];
    countries.push(f);
  });
});

var map = svg.append("g");

map.append("path").datum(toFeature(paleSea, "sea")).attr("d", path).attr("fill", "#f3f5fa");

map.selectAll("path.land").data(countries).enter().append("path")
   .attr("class", "land")
   .attr("d", path)
   .attr("fill", d => d.properties.color)
   .attr("stroke", d => d.properties.color)
   .attr("stroke-width", 0.8)
   .attr("stroke-linejoin", "round");

// faint borders
map.selectAll("path.border").data(countries).enter().append("path")
   .attr("class", "border")
   .attr("d", path)
   .attr("fill", "none")
   .attr("stroke", "#fff")
   .attr("stroke-opacity", 0.2)
   .attr("stroke-width", 0.5);

map.append("path").datum(toFeature(lakes, "lakes")).attr("d", path).attr("fill", "#fff");

// header
svg.append("text").attr("x", 12).attr("y", 37).text(title)
   .attr("font-size", 25).attr("font-weight", 700)
   .attr("textLength", 475).attr("lengthAdjust", "spacingAndGlyphs");

svg.append("text").attr("x", 12).attr("y", 67).text(subtitle)
   .attr("font-size", 23).attr("font-weight", 300)
   .style("font-family", "Inter, sans-serif")
   .attr("textLength", 480).attr("lengthAdjust", "spacingAndGlyphs");

// legend
const swatchScale = d3.scaleBand().domain(d3.range(legendColors.length)).range([157, 325]).paddingInner(0.14);

svg.selectAll("rect.swatch").data(legendColors).enter().append("rect")
   .attr("class", "swatch")
   .attr("x", (d, i) => swatchScale(i)).attr("y", 105)
   .attr("width", swatchScale.bandwidth()).attr("height", 29)
   .attr("fill", d => d);

svg.append("rect").attr("x", 544).attr("y", 105).attr("width", 30).attr("height", 29).attr("fill", noDataColor);

const legendX = [12, 333, 581];
const legendW = [136, 140, 162];
svg.selectAll("text.legend").data(legendLabels).enter().append("text")
   .attr("class", "legend")
   .attr("x", (d, i) => legendX[i]).attr("y", 127)
   .text(d => d)
   .attr("font-size", 19).attr("font-weight", 700)
   .attr("textLength", (d, i) => legendW[i]).attr("lengthAdjust", "spacingAndGlyphs");

svg.append("text").attr("x", 6).attr("y", 645).text(source)
   .attr("font-size", 14).attr("font-weight", 700)
   .attr("textLength", 522).attr("lengthAdjust", "spacingAndGlyphs");
</script>
</body>
</html>
